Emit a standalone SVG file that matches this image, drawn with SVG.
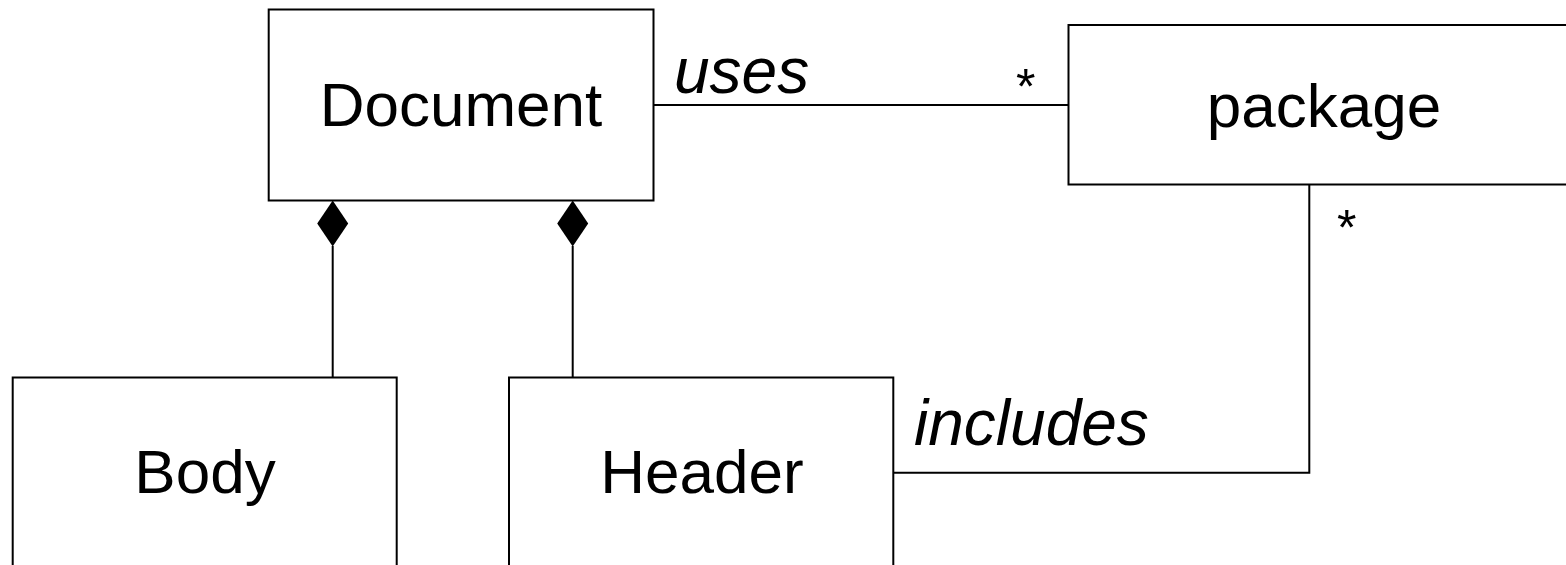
<svg xmlns="http://www.w3.org/2000/svg" width="1566" height="565" viewBox="0 0 1566 565">
<style>
.box{fill:#fff;stroke:#000;stroke-width:2}
.lbl{font-family:"Liberation Sans",Arial,sans-serif;font-size:62px;fill:#000;text-anchor:middle}
.ital{font-family:"Liberation Sans",Arial,sans-serif;font-size:64px;font-style:italic;fill:#000}
.mult{font-family:"Liberation Sans",Arial,sans-serif;font-size:50px;fill:#000}
.line{fill:none;stroke:#000;stroke-width:2}
.dia{fill:#000;stroke:none}
</style>
<rect width="1566" height="565" fill="#fff"/>
<g id="connectors">
<line class="line" x1="653.5" y1="105" x2="1068.5" y2="105"/>
<text class="ital" x="674" y="93">uses</text>
<text class="mult" x="1016" y="104">*</text>
<line class="line" x1="332.7" y1="246" x2="332.7" y2="377.5"/>
<polygon class="dia" points="332.7,200.5 348.2,223.5 332.7,246.5 317.2,223.5"/>
<line class="line" x1="572.7" y1="246" x2="572.7" y2="377.5"/>
<polygon class="dia" points="572.7,200.5 588.2,223.5 572.7,246.5 557.2,223.5"/>
<polyline class="line" points="893.3,472.7 1309.3,472.7 1309.3,184.5"/>
<text class="ital" x="914" y="445">includes</text>
<text class="mult" x="1337" y="245">*</text>
</g>
<g id="node-document">
<rect class="box" x="268.7" y="9.5" width="384.8" height="191"/>
<text class="lbl" x="461" y="126">Document</text>
</g>
<g id="node-package">
<rect class="box" x="1068.5" y="25" width="512" height="159.5"/>
<text class="lbl" x="1324" y="127">package</text>
</g>
<g id="node-body">
<rect class="box" x="12.7" y="377.5" width="384" height="200"/>
<text class="lbl" x="205" y="493">Body</text>
</g>
<g id="node-header">
<rect class="box" x="509" y="377.5" width="384.3" height="200"/>
<text class="lbl" x="702" y="493">Header</text>
</g>
</svg>
